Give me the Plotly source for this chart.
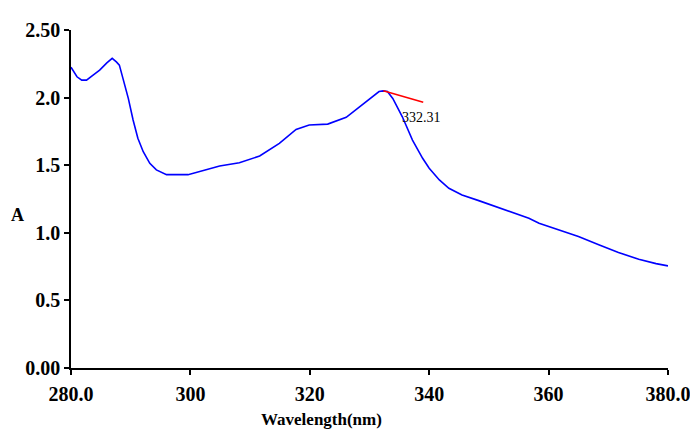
import plotly.graph_objects as go

wavelength = [280.0, 281.0, 281.8, 282.6, 283.7, 284.8, 286.0, 286.9, 287.6, 288.1, 288.7, 289.6,
              290.4, 291.2, 292.1, 293.2, 294.3, 296.0, 299.6, 300.4, 301.6, 302.9, 304.9, 308.2,
              311.6, 314.9, 317.7, 319.9, 323.0, 326.1, 328.3, 330.5, 331.6, 332.3, 333.0, 333.9,
              335.5, 337.2, 338.9, 340.0, 341.7, 343.3, 345.5, 348.3, 351.1, 353.9, 356.7, 358.4,
              361.7, 365.0, 368.4, 371.7, 375.1, 378.0, 380.0]
absorbance = [2.225, 2.154, 2.129, 2.129, 2.166, 2.203, 2.257, 2.290, 2.264, 2.240, 2.142, 1.994,
              1.834, 1.699, 1.600, 1.514, 1.465, 1.430, 1.430, 1.440, 1.452, 1.472, 1.494, 1.518,
              1.568, 1.662, 1.765, 1.797, 1.804, 1.854, 1.932, 2.006, 2.045, 2.050, 2.045, 1.994,
              1.858, 1.686, 1.551, 1.477, 1.391, 1.329, 1.280, 1.238, 1.193, 1.149, 1.108, 1.071,
              1.021, 0.972, 0.911, 0.854, 0.805, 0.772, 0.755]

peak_marker_x = [332.31, 339.0]
peak_marker_y = [2.050, 1.965]
peak_label = "332.31"

x_tickvals = [280, 300, 320, 340, 360, 380]
x_ticktext = ["280.0", "300", "320", "340", "360", "380.0"]
y_tickvals = [0, 0.5, 1.0, 1.5, 2.0, 2.5]
y_ticktext = ["0.00", "0.5", "1.0", "1.5", "2.0", "2.50"]

fig = go.Figure()
fig.add_trace(go.Scatter(x=wavelength, y=absorbance, mode="lines",
                         line=dict(color="#0000ff", width=1.6), showlegend=False))
fig.add_trace(go.Scatter(x=peak_marker_x, y=peak_marker_y, mode="lines",
                         line=dict(color="#ff0000", width=1.6), showlegend=False))

fig.add_annotation(x=338.7, y=1.85, text=peak_label, showarrow=False,
                   font=dict(family="Liberation Serif", size=14, color="#000000"))
fig.add_annotation(xref="paper", yref="paper", x=-0.089, y=0.453, xanchor="center",
                   text="<b>A</b>", showarrow=False,
                   font=dict(family="Liberation Serif", size=18, color="#000000"))
fig.add_annotation(xref="paper", yref="paper", x=0.419, y=-0.118, xanchor="center", yanchor="top",
                   text="<b>Wavelength(nm)</b>", showarrow=False,
                   font=dict(family="Liberation Serif", size=17, color="#000000"))

fig.update_xaxes(range=[280, 380], tickvals=x_tickvals, ticktext=x_ticktext,
                 showgrid=False, zeroline=False, showline=True, linecolor="#000000", linewidth=1.5,
                 ticks="outside", ticklen=5, tickwidth=1.5, tickcolor="#000000",
                 automargin=False, ticklabeloverflow="allow", ticklabelstandoff=2,
                 tickfont=dict(family="Liberation Serif", size=20, color="#000000", weight="bold"))
fig.update_yaxes(range=[0, 2.5], tickvals=y_tickvals, ticktext=y_ticktext,
                 showgrid=False, zeroline=False, showline=True, linecolor="#000000", linewidth=1.5,
                 ticks="outside", ticklen=5, tickwidth=1.5, tickcolor="#000000",
                 automargin=False, ticklabelstandoff=0,
                 tickfont=dict(family="Liberation Serif", size=20, color="#000000", weight="bold"))
fig.update_layout(width=690, height=430, margin=dict(l=71, r=22, t=30, b=62),
                  plot_bgcolor="#ffffff", paper_bgcolor="#ffffff")
fig.write_html("out.html", config={"displayModeBar": False},
               post_script="document.body.style.margin='0';document.body.style.overflow='hidden';")
